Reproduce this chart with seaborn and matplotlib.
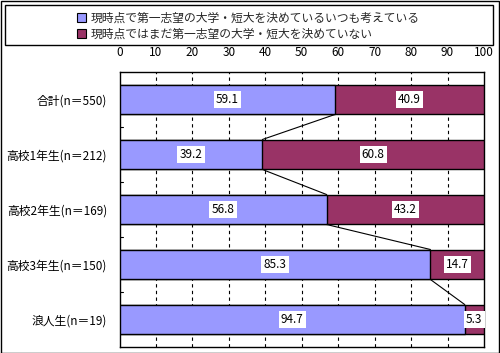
import matplotlib
matplotlib.use('Agg')
import matplotlib.pyplot as plt
import seaborn as sns
import pandas as pd
import numpy as np
from matplotlib.patches import Patch, Rectangle

sns.set_theme(style='white')
plt.rcParams['font.family'] = ['Noto Sans CJK JP', 'DejaVu Sans']

# --- data ---
categories = ['合計(n＝550)', '高校1年生(n＝212)', '高校2年生(n＝169)',
              '高校3年生(n＝150)', '浪人生(n＝19)']
decided = [59.1, 39.2, 56.8, 85.3, 94.7]
undecided = [40.9, 60.8, 43.2, 14.7, 5.3]
series_names = ['現時点で第一志望の大学・短大を決めているいつも考えている',
                '現時点ではまだ第一志望の大学・短大を決めていない']
colors = ['#9999FF', '#993366']

df = pd.DataFrame({'cat': categories, 'decided': decided, 'undecided': undecided})
df['total'] = df['decided'] + df['undecided']

fig = plt.figure(figsize=(5.0, 3.53), dpi=100)
ax = fig.add_axes([119.5 / 500, 6 / 353, (484 - 119.5) / 500, (347 - 72) / 353])

bar_h = 0.545
sns.barplot(data=df, x='total', y='cat', orient='h', color=colors[1],
            saturation=1, width=bar_h, edgecolor='black', linewidth=1, ax=ax, zorder=3)
sns.barplot(data=df, x='decided', y='cat', orient='h', color=colors[0],
            saturation=1, width=bar_h, edgecolor='black', linewidth=1, ax=ax, zorder=4)

# data labels
for i, (d, u) in enumerate(zip(decided, undecided)):
    for xc, v in [(d / 2, d), (d + u / 2, u)]:
        ax.text(xc, i, f'{v:.1f}', ha='center', va='center', fontsize=8.5,
                color='black', zorder=6,
                bbox=dict(facecolor='white', edgecolor='none', pad=1.5))

# connector lines between bars
for i in range(len(decided) - 1):
    ax.plot([decided[i], decided[i + 1]], [i + bar_h / 2, i + 1 - bar_h / 2],
            color='black', lw=0.8, zorder=5)

ax.set_xlim(0, 100)
ax.set_ylim(len(categories) - 0.5, -0.5)
ax.set_xticks(np.arange(0, 101, 10))
ax.xaxis.tick_top()
ax.tick_params(axis='x', length=0, pad=9, labelsize=8.5, colors='black')
ax.tick_params(axis='y', length=0, pad=9, labelsize=8.5, colors='black')
ax.set_xlabel('')
ax.set_ylabel('')
ax.set_yticks(range(len(categories)))
ax.set_yticklabels(categories)

# dashed vertical gridlines
for g in range(10, 100, 10):
    ax.axvline(g, color='black', lw=0.8, ls=(0, (3, 3)), zorder=1)

# category boundary ticks
for b in np.arange(0.5, len(categories) - 0.5, 1):
    ax.plot([0, 1], [b, b], color='black', lw=0.8, zorder=2)

for s in ax.spines.values():
    s.set_color('black')
    s.set_linewidth(1)

# legend box
handles = [Patch(facecolor=c, edgecolor='black', lw=0.8) for c in colors]
leg = fig.legend(handles, series_names, loc='upper left',
                 bbox_to_anchor=(72 / 500, 1 - 7 / 353), frameon=False,
                 fontsize=8.5, handlelength=0.8, handleheight=0.8,
                 handletextpad=0.4, labelspacing=0.25, borderaxespad=0)
fig.patches.append(Rectangle((5 / 500, 1 - 45 / 353), 488 / 500, 40 / 353,
                             transform=fig.transFigure, fill=False,
                             edgecolor='black', lw=1))
fig.patches.append(Rectangle((0.5 / 500, 0.5 / 353), 498.5 / 500, 351.5 / 353,
                             transform=fig.transFigure, fill=False,
                             edgecolor='black', lw=1))

fig.savefig('out.png', dpi=100, facecolor='white')
